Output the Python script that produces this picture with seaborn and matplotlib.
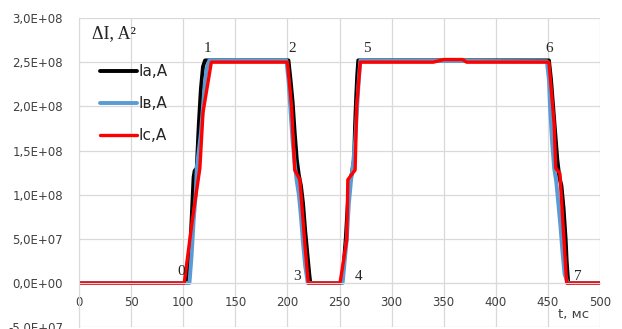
import matplotlib
matplotlib.use("Agg")
import matplotlib.pyplot as plt
import seaborn as sns
import pandas as pd
from matplotlib.ticker import FuncFormatter, MultipleLocator

# ---- data, values in A^2 ----
t_a = [0, 104, 105, 106, 107, 108, 109, 110, 111, 113, 114, 115, 116, 117, 119, 121,
       201, 203, 205, 207, 209, 211, 213, 215, 217, 219, 221, 222,
       252, 254, 256, 258, 260, 262, 264, 265, 266, 267, 268,
       451, 453, 455, 457, 459, 461, 463, 465, 467, 468, 469.5, 500]
ia = [0, 0, 0.15, 0.3, 0.45, 0.7, 0.95, 1.2, 1.27, 1.3, 1.55, 1.8, 2.0, 2.2, 2.45, 2.52,
      2.52, 2.3, 2.05, 1.7, 1.4, 1.22, 1.1, 0.9, 0.6, 0.35, 0.1, 0,
      0, 0.2, 0.5, 0.9, 1.15, 1.25, 1.4, 1.8, 2.1, 2.35, 2.52,
      2.52, 2.3, 2.0, 1.7, 1.4, 1.2, 1.1, 0.85, 0.5, 0.25, 0, 0]

t_b = [0, 106, 108, 110, 112, 113, 115, 117, 119, 121, 123, 125,
       199, 201, 203, 205, 207, 209, 211, 213, 215, 217, 219.5,
       253, 255, 257, 259, 261, 263, 265, 267, 268.5, 270,
       449, 451, 452, 454, 456, 458, 460, 462, 464, 466, 469, 500]
ib = [0, 0, 0.3, 0.7, 1.0, 1.3, 1.5, 1.7, 2.0, 2.3, 2.45, 2.52,
      2.52, 2.3, 1.95, 1.6, 1.35, 1.15, 1.0, 0.75, 0.45, 0.2, 0,
      0, 0.25, 0.5, 0.9, 1.15, 1.35, 1.6, 2.0, 2.3, 2.52,
      2.51, 2.3, 2.0, 1.6, 1.3, 1.15, 0.9, 0.65, 0.35, 0.1, 0, 0]

t_c = [0, 101, 108.5, 116, 119, 127, 200, 204, 207, 212, 217, 220,
       250.5, 257, 258, 265, 266.5, 270, 340, 350, 368, 372, 450, 451,
       456, 457.5, 461.5, 468, 500]
ic = [0, 0, 0.69, 1.30, 1.93, 2.50, 2.50, 2.00, 1.28, 1.17, 0.41, 0,
      0, 0.49, 1.17, 1.28, 2.0, 2.50, 2.50, 2.53, 2.53, 2.50, 2.50, 2.50,
      1.80, 1.30, 1.24, 0, 0]

series_names = ["Ia,A", "Iв,A", "Ic,A"]
series_colors = ["#000000", "#5B9BD5", "#FF0000"]
series_widths = [2.8, 2.8, 2.4]

y_ticks = [-5e7, 0, 5e7, 1e8, 1.5e8, 2e8, 2.5e8, 3e8]
point_labels = ["0", "1", "2", "3", "4", "5", "6", "7"]
point_t = [98, 123, 204.5, 209, 268, 276, 451, 479]
point_y = [1.3e7, 2.65e8, 2.65e8, 0.7e7, 0.7e7, 2.65e8, 2.65e8, 0.7e7]

sns.set_style("white")
plt.rcParams['font.family'] = ['DejaVu Sans']

fig = plt.figure(figsize=(6.22, 3.29), dpi=100)
ax = fig.add_axes([79 / 622, 1 - 327.2 / 329, 521 / 622, 309.2 / 329])

for t, v, name, col, lw in zip([t_a, t_b, t_c], [ia, ib, ic], series_names,
                               series_colors, series_widths):
    df = pd.DataFrame({"t": t, "v": [x * 1e8 for x in v]})
    sns.lineplot(data=df, x="t", y="v", color=col, lw=lw, label=name,
                 sort=False, estimator=None, ax=ax)

ax.set_xlim(0, 500)
ax.set_ylim(y_ticks[0], y_ticks[-1])
ax.set_yticks(y_ticks)
ax.xaxis.set_major_locator(MultipleLocator(50))
ax.yaxis.set_major_formatter(FuncFormatter(lambda v, p: f"{v:.1E}".replace(".", ",")))
ax.grid(True, color="#D9D9D9", lw=0.9)
ax.set_axisbelow(True)
ax.set_xlabel("")
ax.set_ylabel("")

for s in ["top", "right"]:
    ax.spines[s].set_visible(False)
ax.spines["left"].set_color("#D9D9D9")
ax.spines["bottom"].set_position(("data", 0))
ax.spines["bottom"].set_color("#D9D9D9")
ax.tick_params(axis="both", length=0, labelsize=8.5, colors="#404040")
ax.tick_params(axis="x", pad=9)
ax.tick_params(axis="y", pad=11.5)

ax.legend(loc="upper left", bbox_to_anchor=(0.04, 0.85), frameon=False,
          fontsize=11, handlelength=2.4, handletextpad=0.1, labelspacing=1.1,
          borderpad=0, borderaxespad=0)

for lab, x, y in zip(point_labels, point_t, point_y):
    ax.text(x, y, lab, family="Liberation Serif", fontsize=11, ha="center",
            va="center", color="#262626")

ax.text(12, 2.82e8, "ΔI, A²", family="Liberation Serif", fontsize=13,
        ha="left", va="center", color="#262626")
ax.text(490, -3.6e7, "t, мс", fontsize=9.5, ha="right", va="center", color="#404040")

fig.savefig("out.png", dpi=100)
